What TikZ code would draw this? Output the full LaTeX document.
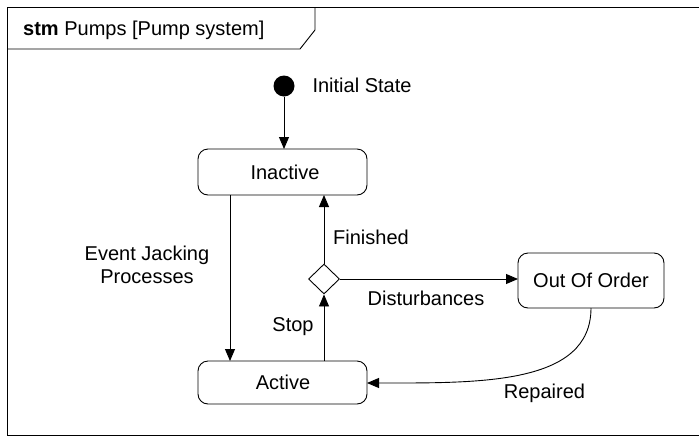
\documentclass[tikz,border=0pt]{standalone}
\usepackage{fontspec}
\setmainfont{Liberation Sans}
\usetikzlibrary{arrows.meta,shapes.geometric}
\tikzset{
  statebox/.style={draw, rounded corners=10pt, line width=0.9pt, inner sep=0pt},
  lbl/.style={inner sep=0pt, font=\fontsize{20}{23}\selectfont},
  conn/.style={line width=0.9pt, -{Triangle[length=12pt,width=10pt]}},
}
\begin{document}
\begin{tikzpicture}[x=1pt,y=-1pt, font=\fontsize{20}{23}\selectfont]
\useasboundingbox (0,0) rectangle (699,437);
% frame (right edge lies just outside the picture, as in the reference)
\draw[line width=1.2pt] (7.5,7.5) rectangle (701,435.8);
\draw[line width=0.9pt] (315,7.5) -- (315,30) -- (300,49) -- (7.5,49);
\node[lbl, anchor=base west] (title) at (23,35) {\textbf{stm} Pumps [Pump system]};
% states
\node[circle, fill=black, minimum size=21pt, inner sep=0pt] (init) at (284,86) {};
\node[lbl] (initlbl) at (362,85) {Initial State};
\draw[statebox] (198,149) rectangle (367,195);
\node[lbl] (inactive) at (285,172) {Inactive};
\coordinate (inTop) at (284,149);
\coordinate (inBotL) at (230,195);
\coordinate (inBotR) at (324,195);
\draw[statebox] (198,361) rectangle (367,404);
\node[lbl] (active) at (283,382.5) {Active};
\coordinate (acTopL) at (230,361);
\coordinate (acTopR) at (324,361);
\coordinate (acRight) at (367,383);
\node[diamond, draw, line width=0.9pt, minimum width=31pt, minimum height=30pt, inner sep=0pt] (dec) at (324,279) {};
\draw[statebox] (518,253) rectangle (664,308);
\node[lbl] (ooo) at (591,280.5) {Out Of Order};
\coordinate (oooLeft) at (518,279);
\coordinate (oooBot) at (591,308);
% connectors
\draw[conn] (init) -- (inTop);
\draw[conn] (inBotL) -- (acTopL);
\draw[conn] (acTopR) -- (dec.south);
\draw[conn] (dec.north) -- (inBotR);
\draw[conn] (dec.east) -- (oooLeft);
\draw[conn] (oooBot) .. controls (591,385) and (480,383) .. (acRight);
% labels
\node[lbl] (finished) at (371,237) {Finished};
\node[lbl, align=center] (ejp) at (147,265) {Event Jacking\\Processes};
\node[lbl] (dist) at (426,298) {Disturbances};
\node[lbl] (stop) at (293,327) {Stop};
\node[lbl] (rep) at (544.5,393) {Repaired};
\end{tikzpicture}
\end{document}
